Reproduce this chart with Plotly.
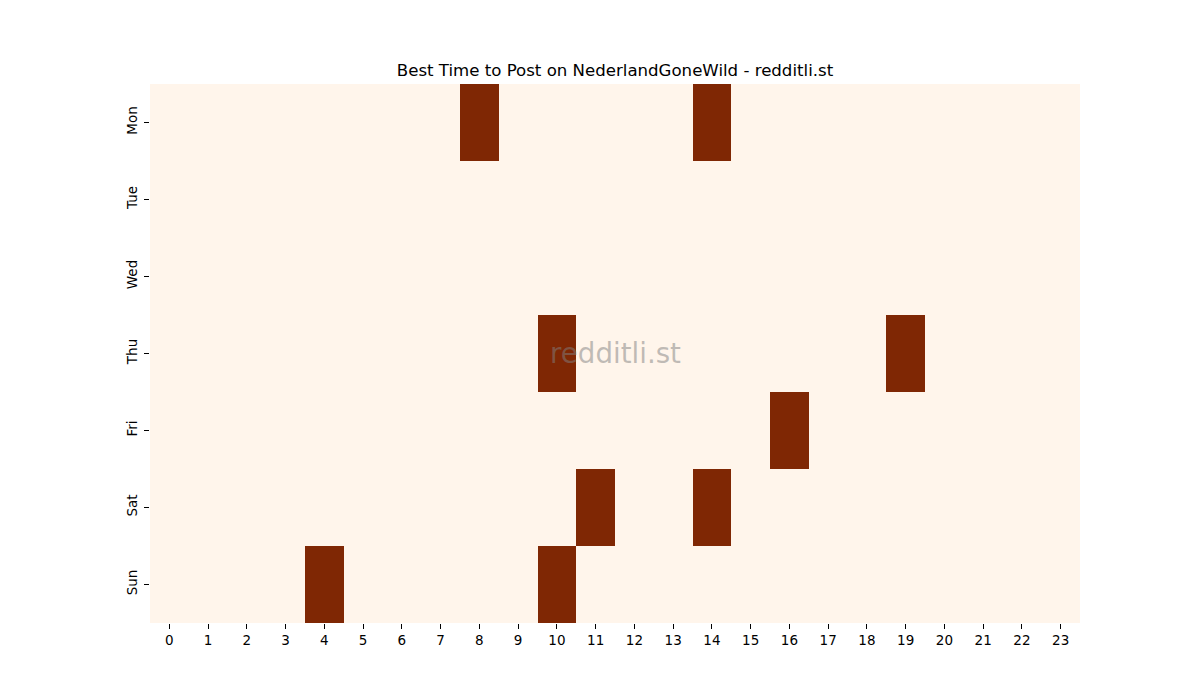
import plotly.graph_objects as go

days = ["Mon", "Tue", "Wed", "Thu", "Fri", "Sat", "Sun"]
hours = list(range(24))
# hours with top activity per day (value 1), everything else 0
mon = [8, 14]
tue = []
wed = []
thu = [10, 19]
fri = [16]
sat = [11, 14]
sun = [4, 10]
active = [mon, tue, wed, thu, fri, sat, sun]

z = [[1 if h in row else 0 for h in hours] for row in active]

fig = go.Figure(go.Heatmap(
    z=z, x=hours, y=days,
    colorscale=[[0, "#fff5eb"], [1, "#7f2704"]],
    showscale=False, zmin=0, zmax=1,
    hoverinfo="skip",
))

fig.update_layout(
    width=1200, height=700,
    margin=dict(l=150, r=120, t=84, b=77),
    paper_bgcolor="white", plot_bgcolor="white",
    font=dict(family="DejaVu Sans", size=13.5, color="black"),
    title=dict(text="Best Time to Post on NederlandGoneWild - redditli.st",
               x=615/1200, xanchor="center", y=1-70/700, yanchor="middle",
               font=dict(size=16.6, color="black")),
    xaxis=dict(tickmode="array", tickvals=hours, ticktext=[str(h) for h in hours],
               ticks="outside", ticklen=5, tickcolor="black", showgrid=False,
               zeroline=False, showline=False, tickfont=dict(size=13.5)),
    yaxis=dict(autorange="reversed", ticks="outside", ticklen=5, tickcolor="black",
               showgrid=False, zeroline=False, showline=False, tickangle=-90,
               tickfont=dict(size=13.5), ticklabelstandoff=2),
    annotations=[dict(text="redditli.st", x=0.5, y=0.5, xref="paper", yref="paper",
                      showarrow=False, font=dict(size=27.7, color="rgba(128,128,128,0.5)"))],
)

fig.write_html("out.html")
